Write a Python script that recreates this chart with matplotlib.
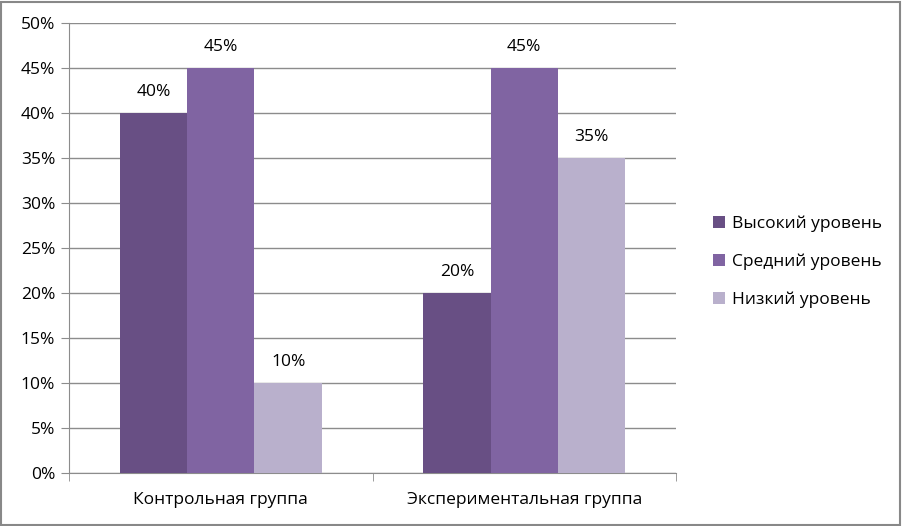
import numpy as np
import matplotlib.pyplot as plt
from matplotlib.patches import Rectangle

plt.rcParams['font.family'] = ['Open Sans', 'DejaVu Sans']

categories = ['Контрольная группа', 'Экспериментальная группа']
series_names = ['Высокий уровень', 'Средний уровень', 'Низкий уровень']
high = [40, 20]
mid = [45, 45]
low = [10, 35]
colors = ['#684F84', '#8064A2', '#B9B0CC']

W, H = 902, 526
fig = plt.figure(figsize=(W / 100, H / 100), dpi=100)
ax = fig.add_axes([69 / W, 1 - 473 / H, (676 - 69) / W, (473 - 23) / H])

fs = 12.5
x = np.arange(len(categories))
bw = 0.222
for i, (vals, name, c) in enumerate(zip([high, mid, low], series_names, colors)):
    pos = x + (i - 1) * bw
    bars = ax.bar(pos, vals, width=bw, color=c, label=name, zorder=3)
    for b, v in zip(bars, vals):
        ax.text(b.get_x() + b.get_width() / 2, v + 1.4, f'{v}%',
                ha='center', va='bottom', fontsize=fs)

ax.set_xlim(-0.5, len(categories) - 0.5)
ax.set_ylim(0, 50)
ax.set_yticks(np.arange(0, 51, 5))
ax.set_yticklabels([f'{v}%' for v in range(0, 51, 5)], fontsize=fs)
ax.yaxis.grid(True, color='#8C8C8C', linewidth=1, zorder=0)
ax.set_xticks(x)
ax.set_xticklabels(categories, fontsize=fs)
ax.tick_params(axis='x', length=0, pad=14)
ax.set_xticks([-0.5, 0.5, 1.5], minor=True)
ax.tick_params(axis='x', which='minor', length=6, color='#8C8C8C')
ax.tick_params(axis='y', length=6, color='#8C8C8C', pad=4)
for s in ['top', 'right']:
    ax.spines[s].set_visible(False)
for s in ['left', 'bottom']:
    ax.spines[s].set_color('#8C8C8C')

fig.legend(loc='center left', bbox_to_anchor=(697 / W, 1 - 262 / H), frameon=False,
           fontsize=fs, handlelength=0.7, handleheight=0.7, handletextpad=0.4,
           labelspacing=1.25)

fig.add_artist(Rectangle((0.001, 0.001), 0.997, 0.996, transform=fig.transFigure,
                         fill=False, edgecolor='#888888', linewidth=1.5))

fig.savefig('out.png', dpi=100)
